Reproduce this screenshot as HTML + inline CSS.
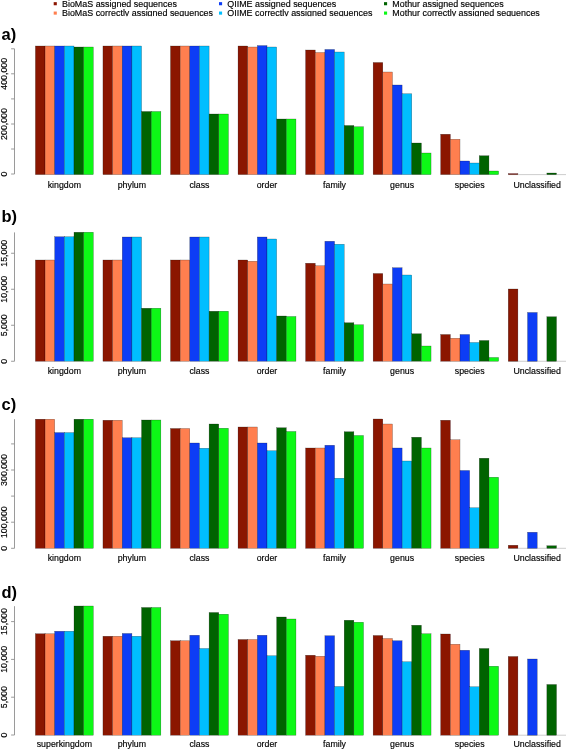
<!DOCTYPE html>
<html lang="en"><head><meta charset="utf-8"><title>Figure</title>
<style>html,body{margin:0;padding:0;background:#fff;}body{width:567px;height:750px;overflow:hidden;}svg{display:block;font-family:"Liberation Sans",Arial,sans-serif;}.t{font-size:8.8px;fill:#000;stroke:#000;stroke-width:0.16px;}.lg{font-size:8.92px;}.L{font-size:16.5px;font-weight:bold;fill:#000;}.bar{stroke:#000;stroke-width:0.4;stroke-opacity:0.55;}.ax{stroke:#8e8e8e;stroke-width:0.9;fill:none;}</style></head><body>
<svg width="567" height="750" viewBox="0 0 567 750">
<defs><filter id="soft" x="0" y="0" width="567" height="750" filterUnits="userSpaceOnUse"><feGaussianBlur stdDeviation="0.38"/></filter></defs>
<rect width="567" height="750" fill="#fff"/>
<g filter="url(#soft)">
<g id="legend">
<rect x="53.70" y="2.15" width="3.1" height="3.1" fill="#8B1500"/>
<text class="t lg" x="62.00" y="7.00">BioMaS assigned sequences</text>
<rect x="53.70" y="11.55" width="3.1" height="3.1" fill="#FF7F50"/>
<text class="t lg" x="62.00" y="15.90">BioMaS correctly assigned sequences</text>
<rect x="219.00" y="2.15" width="3.1" height="3.1" fill="#0F3CF5"/>
<text class="t lg" x="227.30" y="7.00">QIIME assigned sequences</text>
<rect x="219.00" y="11.55" width="3.1" height="3.1" fill="#06BEFF"/>
<text class="t lg" x="227.30" y="15.90">QIIME correctly assigned sequences</text>
<rect x="384.00" y="2.15" width="3.1" height="3.1" fill="#006400"/>
<text class="t lg" x="392.30" y="7.00">Mothur assigned sequences</text>
<rect x="384.00" y="11.55" width="3.1" height="3.1" fill="#0AF814"/>
<text class="t lg" x="392.30" y="15.90">Mothur correctly assigned sequences</text>
</g>
<rect x="0" y="16.2" width="567" height="8" fill="#fff"/>
<g id="panel-a">
<text class="L" x="1.5" y="40.00">a)</text>
<path class="ax" d="M14.50 48.80V174.00"/>
<path class="ax" d="M11.10 174.00H14.50M11.10 149.00H14.50M11.10 124.00H14.50M11.10 98.90H14.50M11.10 73.80H14.50M11.10 48.80H14.50"/>
<text class="t" text-anchor="middle" transform="translate(7.1 174.00) rotate(-90)">0</text>
<text class="t" text-anchor="middle" transform="translate(7.1 124.00) rotate(-90)">200,000</text>
<text class="t" text-anchor="middle" transform="translate(7.1 73.80) rotate(-90)">400,000</text>
<rect class="bar" x="35.40" y="46.00" width="9.65" height="128.60" fill="#8B1500"/>
<rect class="bar" x="45.05" y="46.00" width="9.65" height="128.60" fill="#FF7F50"/>
<rect class="bar" x="54.70" y="46.00" width="9.65" height="128.60" fill="#0F3CF5"/>
<rect class="bar" x="64.35" y="46.00" width="9.65" height="128.60" fill="#06BEFF"/>
<rect class="bar" x="74.00" y="47.00" width="9.65" height="127.60" fill="#006400"/>
<rect class="bar" x="83.65" y="47.00" width="9.65" height="127.60" fill="#0AF814"/>
<text class="t" text-anchor="middle" x="64.35" y="187.90">kingdom</text>
<rect class="bar" x="102.95" y="46.00" width="9.65" height="128.60" fill="#8B1500"/>
<rect class="bar" x="112.60" y="46.00" width="9.65" height="128.60" fill="#FF7F50"/>
<rect class="bar" x="122.25" y="46.00" width="9.65" height="128.60" fill="#0F3CF5"/>
<rect class="bar" x="131.90" y="46.00" width="9.65" height="128.60" fill="#06BEFF"/>
<rect class="bar" x="141.55" y="111.50" width="9.65" height="63.10" fill="#006400"/>
<rect class="bar" x="151.20" y="111.50" width="9.65" height="63.10" fill="#0AF814"/>
<text class="t" text-anchor="middle" x="131.90" y="187.90">phylum</text>
<rect class="bar" x="170.50" y="46.00" width="9.65" height="128.60" fill="#8B1500"/>
<rect class="bar" x="180.15" y="46.00" width="9.65" height="128.60" fill="#FF7F50"/>
<rect class="bar" x="189.80" y="46.00" width="9.65" height="128.60" fill="#0F3CF5"/>
<rect class="bar" x="199.45" y="46.00" width="9.65" height="128.60" fill="#06BEFF"/>
<rect class="bar" x="209.10" y="114.00" width="9.65" height="60.60" fill="#006400"/>
<rect class="bar" x="218.75" y="114.00" width="9.65" height="60.60" fill="#0AF814"/>
<text class="t" text-anchor="middle" x="199.45" y="187.90">class</text>
<rect class="bar" x="238.05" y="46.00" width="9.65" height="128.60" fill="#8B1500"/>
<rect class="bar" x="247.70" y="47.00" width="9.65" height="127.60" fill="#FF7F50"/>
<rect class="bar" x="257.35" y="45.60" width="9.65" height="129.00" fill="#0F3CF5"/>
<rect class="bar" x="267.00" y="47.00" width="9.65" height="127.60" fill="#06BEFF"/>
<rect class="bar" x="276.65" y="119.00" width="9.65" height="55.60" fill="#006400"/>
<rect class="bar" x="286.30" y="119.00" width="9.65" height="55.60" fill="#0AF814"/>
<text class="t" text-anchor="middle" x="267.00" y="187.90">order</text>
<rect class="bar" x="305.60" y="50.00" width="9.65" height="124.60" fill="#8B1500"/>
<rect class="bar" x="315.25" y="52.50" width="9.65" height="122.10" fill="#FF7F50"/>
<rect class="bar" x="324.90" y="49.50" width="9.65" height="125.10" fill="#0F3CF5"/>
<rect class="bar" x="334.55" y="52.00" width="9.65" height="122.60" fill="#06BEFF"/>
<rect class="bar" x="344.20" y="125.50" width="9.65" height="49.10" fill="#006400"/>
<rect class="bar" x="353.85" y="126.75" width="9.65" height="47.85" fill="#0AF814"/>
<text class="t" text-anchor="middle" x="334.55" y="187.90">family</text>
<rect class="bar" x="373.15" y="62.50" width="9.65" height="112.10" fill="#8B1500"/>
<rect class="bar" x="382.80" y="72.00" width="9.65" height="102.60" fill="#FF7F50"/>
<rect class="bar" x="392.45" y="85.00" width="9.65" height="89.60" fill="#0F3CF5"/>
<rect class="bar" x="402.10" y="93.75" width="9.65" height="80.85" fill="#06BEFF"/>
<rect class="bar" x="411.75" y="143.00" width="9.65" height="31.60" fill="#006400"/>
<rect class="bar" x="421.40" y="153.00" width="9.65" height="21.60" fill="#0AF814"/>
<text class="t" text-anchor="middle" x="402.10" y="187.90">genus</text>
<rect class="bar" x="440.70" y="134.25" width="9.65" height="40.35" fill="#8B1500"/>
<rect class="bar" x="450.35" y="139.25" width="9.65" height="35.35" fill="#FF7F50"/>
<rect class="bar" x="460.00" y="161.00" width="9.65" height="13.60" fill="#0F3CF5"/>
<rect class="bar" x="469.65" y="163.00" width="9.65" height="11.60" fill="#06BEFF"/>
<rect class="bar" x="479.30" y="155.75" width="9.65" height="18.85" fill="#006400"/>
<rect class="bar" x="488.95" y="171.00" width="9.65" height="3.60" fill="#0AF814"/>
<text class="t" text-anchor="middle" x="469.65" y="187.90">species</text>
<path d="M508.25 174.60H566.00" stroke="#b8b8b8" stroke-width="0.7"/>
<rect class="bar" x="508.25" y="173.60" width="9.65" height="1.00" fill="#8B1500"/>
<rect class="bar" x="546.85" y="173.00" width="9.65" height="1.60" fill="#006400"/>
<text class="t" text-anchor="middle" x="537.20" y="187.90">Unclassified</text>
</g>
<g id="panel-b">
<text class="L" x="1.5" y="222.00">b)</text>
<path class="ax" d="M14.50 232.40V361.25"/>
<path class="ax" d="M11.10 361.25H14.50M11.10 325.25H14.50M11.10 289.25H14.50M11.10 253.25H14.50"/>
<text class="t" text-anchor="middle" transform="translate(7.1 361.25) rotate(-90)">0</text>
<text class="t" text-anchor="middle" transform="translate(7.1 325.25) rotate(-90)">5,000</text>
<text class="t" text-anchor="middle" transform="translate(7.1 289.25) rotate(-90)">10,000</text>
<text class="t" text-anchor="middle" transform="translate(7.1 253.25) rotate(-90)">15,000</text>
<rect class="bar" x="35.40" y="260.00" width="9.65" height="101.25" fill="#8B1500"/>
<rect class="bar" x="45.05" y="260.00" width="9.65" height="101.25" fill="#FF7F50"/>
<rect class="bar" x="54.70" y="236.75" width="9.65" height="124.50" fill="#0F3CF5"/>
<rect class="bar" x="64.35" y="236.75" width="9.65" height="124.50" fill="#06BEFF"/>
<rect class="bar" x="74.00" y="232.25" width="9.65" height="129.00" fill="#006400"/>
<rect class="bar" x="83.65" y="232.25" width="9.65" height="129.00" fill="#0AF814"/>
<text class="t" text-anchor="middle" x="64.35" y="374.40">kingdom</text>
<rect class="bar" x="102.95" y="260.00" width="9.65" height="101.25" fill="#8B1500"/>
<rect class="bar" x="112.60" y="260.00" width="9.65" height="101.25" fill="#FF7F50"/>
<rect class="bar" x="122.25" y="237.00" width="9.65" height="124.25" fill="#0F3CF5"/>
<rect class="bar" x="131.90" y="237.00" width="9.65" height="124.25" fill="#06BEFF"/>
<rect class="bar" x="141.55" y="308.25" width="9.65" height="53.00" fill="#006400"/>
<rect class="bar" x="151.20" y="308.25" width="9.65" height="53.00" fill="#0AF814"/>
<text class="t" text-anchor="middle" x="131.90" y="374.40">phylum</text>
<rect class="bar" x="170.50" y="260.00" width="9.65" height="101.25" fill="#8B1500"/>
<rect class="bar" x="180.15" y="260.00" width="9.65" height="101.25" fill="#FF7F50"/>
<rect class="bar" x="189.80" y="237.00" width="9.65" height="124.25" fill="#0F3CF5"/>
<rect class="bar" x="199.45" y="237.00" width="9.65" height="124.25" fill="#06BEFF"/>
<rect class="bar" x="209.10" y="311.25" width="9.65" height="50.00" fill="#006400"/>
<rect class="bar" x="218.75" y="311.25" width="9.65" height="50.00" fill="#0AF814"/>
<text class="t" text-anchor="middle" x="199.45" y="374.40">class</text>
<rect class="bar" x="238.05" y="260.00" width="9.65" height="101.25" fill="#8B1500"/>
<rect class="bar" x="247.70" y="261.25" width="9.65" height="100.00" fill="#FF7F50"/>
<rect class="bar" x="257.35" y="237.00" width="9.65" height="124.25" fill="#0F3CF5"/>
<rect class="bar" x="267.00" y="239.00" width="9.65" height="122.25" fill="#06BEFF"/>
<rect class="bar" x="276.65" y="316.00" width="9.65" height="45.25" fill="#006400"/>
<rect class="bar" x="286.30" y="316.50" width="9.65" height="44.75" fill="#0AF814"/>
<text class="t" text-anchor="middle" x="267.00" y="374.40">order</text>
<rect class="bar" x="305.60" y="263.25" width="9.65" height="98.00" fill="#8B1500"/>
<rect class="bar" x="315.25" y="265.75" width="9.65" height="95.50" fill="#FF7F50"/>
<rect class="bar" x="324.90" y="241.25" width="9.65" height="120.00" fill="#0F3CF5"/>
<rect class="bar" x="334.55" y="244.25" width="9.65" height="117.00" fill="#06BEFF"/>
<rect class="bar" x="344.20" y="322.75" width="9.65" height="38.50" fill="#006400"/>
<rect class="bar" x="353.85" y="324.75" width="9.65" height="36.50" fill="#0AF814"/>
<text class="t" text-anchor="middle" x="334.55" y="374.40">family</text>
<rect class="bar" x="373.15" y="273.50" width="9.65" height="87.75" fill="#8B1500"/>
<rect class="bar" x="382.80" y="284.00" width="9.65" height="77.25" fill="#FF7F50"/>
<rect class="bar" x="392.45" y="267.75" width="9.65" height="93.50" fill="#0F3CF5"/>
<rect class="bar" x="402.10" y="275.00" width="9.65" height="86.25" fill="#06BEFF"/>
<rect class="bar" x="411.75" y="333.75" width="9.65" height="27.50" fill="#006400"/>
<rect class="bar" x="421.40" y="346.00" width="9.65" height="15.25" fill="#0AF814"/>
<text class="t" text-anchor="middle" x="402.10" y="374.40">genus</text>
<rect class="bar" x="440.70" y="334.50" width="9.65" height="26.75" fill="#8B1500"/>
<rect class="bar" x="450.35" y="338.25" width="9.65" height="23.00" fill="#FF7F50"/>
<rect class="bar" x="460.00" y="334.50" width="9.65" height="26.75" fill="#0F3CF5"/>
<rect class="bar" x="469.65" y="342.50" width="9.65" height="18.75" fill="#06BEFF"/>
<rect class="bar" x="479.30" y="340.50" width="9.65" height="20.75" fill="#006400"/>
<rect class="bar" x="488.95" y="357.50" width="9.65" height="3.75" fill="#0AF814"/>
<text class="t" text-anchor="middle" x="469.65" y="374.40">species</text>
<path d="M508.25 361.25H566.00" stroke="#b8b8b8" stroke-width="0.7"/>
<rect class="bar" x="508.25" y="289.00" width="9.65" height="72.25" fill="#8B1500"/>
<rect class="bar" x="527.55" y="312.50" width="9.65" height="48.75" fill="#0F3CF5"/>
<rect class="bar" x="546.85" y="316.75" width="9.65" height="44.50" fill="#006400"/>
<text class="t" text-anchor="middle" x="537.20" y="374.40">Unclassified</text>
</g>
<g id="panel-c">
<text class="L" x="1.5" y="409.60">c)</text>
<path class="ax" d="M14.50 419.20V548.30"/>
<path class="ax" d="M11.10 548.30H14.50M11.10 522.20H14.50M11.10 496.10H14.50M11.10 470.00H14.50M11.10 443.90H14.50"/>
<text class="t" text-anchor="middle" transform="translate(7.1 548.30) rotate(-90)">0</text>
<text class="t" text-anchor="middle" transform="translate(7.1 522.20) rotate(-90)">100,000</text>
<text class="t" text-anchor="middle" transform="translate(7.1 470.00) rotate(-90)">300,000</text>
<rect class="bar" x="35.40" y="419.20" width="9.65" height="129.10" fill="#8B1500"/>
<rect class="bar" x="45.05" y="419.20" width="9.65" height="129.10" fill="#FF7F50"/>
<rect class="bar" x="54.70" y="432.60" width="9.65" height="115.70" fill="#0F3CF5"/>
<rect class="bar" x="64.35" y="432.60" width="9.65" height="115.70" fill="#06BEFF"/>
<rect class="bar" x="74.00" y="419.20" width="9.65" height="129.10" fill="#006400"/>
<rect class="bar" x="83.65" y="419.20" width="9.65" height="129.10" fill="#0AF814"/>
<text class="t" text-anchor="middle" x="64.35" y="561.00">kingdom</text>
<rect class="bar" x="102.95" y="420.25" width="9.65" height="128.05" fill="#8B1500"/>
<rect class="bar" x="112.60" y="420.25" width="9.65" height="128.05" fill="#FF7F50"/>
<rect class="bar" x="122.25" y="437.75" width="9.65" height="110.55" fill="#0F3CF5"/>
<rect class="bar" x="131.90" y="437.75" width="9.65" height="110.55" fill="#06BEFF"/>
<rect class="bar" x="141.55" y="420.00" width="9.65" height="128.30" fill="#006400"/>
<rect class="bar" x="151.20" y="420.00" width="9.65" height="128.30" fill="#0AF814"/>
<text class="t" text-anchor="middle" x="131.90" y="561.00">phylum</text>
<rect class="bar" x="170.50" y="428.50" width="9.65" height="119.80" fill="#8B1500"/>
<rect class="bar" x="180.15" y="428.50" width="9.65" height="119.80" fill="#FF7F50"/>
<rect class="bar" x="189.80" y="443.00" width="9.65" height="105.30" fill="#0F3CF5"/>
<rect class="bar" x="199.45" y="448.25" width="9.65" height="100.05" fill="#06BEFF"/>
<rect class="bar" x="209.10" y="424.00" width="9.65" height="124.30" fill="#006400"/>
<rect class="bar" x="218.75" y="428.25" width="9.65" height="120.05" fill="#0AF814"/>
<text class="t" text-anchor="middle" x="199.45" y="561.00">class</text>
<rect class="bar" x="238.05" y="427.00" width="9.65" height="121.30" fill="#8B1500"/>
<rect class="bar" x="247.70" y="427.00" width="9.65" height="121.30" fill="#FF7F50"/>
<rect class="bar" x="257.35" y="443.00" width="9.65" height="105.30" fill="#0F3CF5"/>
<rect class="bar" x="267.00" y="450.75" width="9.65" height="97.55" fill="#06BEFF"/>
<rect class="bar" x="276.65" y="427.75" width="9.65" height="120.55" fill="#006400"/>
<rect class="bar" x="286.30" y="431.50" width="9.65" height="116.80" fill="#0AF814"/>
<text class="t" text-anchor="middle" x="267.00" y="561.00">order</text>
<rect class="bar" x="305.60" y="448.00" width="9.65" height="100.30" fill="#8B1500"/>
<rect class="bar" x="315.25" y="448.00" width="9.65" height="100.30" fill="#FF7F50"/>
<rect class="bar" x="324.90" y="445.25" width="9.65" height="103.05" fill="#0F3CF5"/>
<rect class="bar" x="334.55" y="478.25" width="9.65" height="70.05" fill="#06BEFF"/>
<rect class="bar" x="344.20" y="431.75" width="9.65" height="116.55" fill="#006400"/>
<rect class="bar" x="353.85" y="435.50" width="9.65" height="112.80" fill="#0AF814"/>
<text class="t" text-anchor="middle" x="334.55" y="561.00">family</text>
<rect class="bar" x="373.15" y="419.00" width="9.65" height="129.30" fill="#8B1500"/>
<rect class="bar" x="382.80" y="424.00" width="9.65" height="124.30" fill="#FF7F50"/>
<rect class="bar" x="392.45" y="448.00" width="9.65" height="100.30" fill="#0F3CF5"/>
<rect class="bar" x="402.10" y="461.00" width="9.65" height="87.30" fill="#06BEFF"/>
<rect class="bar" x="411.75" y="437.25" width="9.65" height="111.05" fill="#006400"/>
<rect class="bar" x="421.40" y="448.00" width="9.65" height="100.30" fill="#0AF814"/>
<text class="t" text-anchor="middle" x="402.10" y="561.00">genus</text>
<rect class="bar" x="440.70" y="420.25" width="9.65" height="128.05" fill="#8B1500"/>
<rect class="bar" x="450.35" y="439.75" width="9.65" height="108.55" fill="#FF7F50"/>
<rect class="bar" x="460.00" y="470.50" width="9.65" height="77.80" fill="#0F3CF5"/>
<rect class="bar" x="469.65" y="507.75" width="9.65" height="40.55" fill="#06BEFF"/>
<rect class="bar" x="479.30" y="458.25" width="9.65" height="90.05" fill="#006400"/>
<rect class="bar" x="488.95" y="477.25" width="9.65" height="71.05" fill="#0AF814"/>
<text class="t" text-anchor="middle" x="469.65" y="561.00">species</text>
<path d="M508.25 548.30H566.00" stroke="#b8b8b8" stroke-width="0.7"/>
<rect class="bar" x="508.25" y="545.25" width="9.65" height="3.05" fill="#8B1500"/>
<rect class="bar" x="527.55" y="532.25" width="9.65" height="16.05" fill="#0F3CF5"/>
<rect class="bar" x="546.85" y="545.75" width="9.65" height="2.55" fill="#006400"/>
<text class="t" text-anchor="middle" x="537.20" y="561.00">Unclassified</text>
</g>
<g id="panel-d">
<text class="L" x="1.5" y="598.00">d)</text>
<path class="ax" d="M14.50 606.20V735.00"/>
<path class="ax" d="M11.10 735.00H14.50M11.10 697.20H14.50M11.10 659.40H14.50M11.10 621.60H14.50"/>
<text class="t" text-anchor="middle" transform="translate(7.1 735.00) rotate(-90)">0</text>
<text class="t" text-anchor="middle" transform="translate(7.1 697.20) rotate(-90)">5,000</text>
<text class="t" text-anchor="middle" transform="translate(7.1 659.40) rotate(-90)">10,000</text>
<text class="t" text-anchor="middle" transform="translate(7.1 621.60) rotate(-90)">15,000</text>
<rect class="bar" x="35.40" y="633.75" width="9.65" height="101.45" fill="#8B1500"/>
<rect class="bar" x="45.05" y="633.75" width="9.65" height="101.45" fill="#FF7F50"/>
<rect class="bar" x="54.70" y="631.25" width="9.65" height="103.95" fill="#0F3CF5"/>
<rect class="bar" x="64.35" y="631.25" width="9.65" height="103.95" fill="#06BEFF"/>
<rect class="bar" x="74.00" y="606.00" width="9.65" height="129.20" fill="#006400"/>
<rect class="bar" x="83.65" y="606.00" width="9.65" height="129.20" fill="#0AF814"/>
<text class="t" text-anchor="middle" x="64.35" y="747.20">superkingdom</text>
<rect class="bar" x="102.95" y="636.25" width="9.65" height="98.95" fill="#8B1500"/>
<rect class="bar" x="112.60" y="636.25" width="9.65" height="98.95" fill="#FF7F50"/>
<rect class="bar" x="122.25" y="633.50" width="9.65" height="101.70" fill="#0F3CF5"/>
<rect class="bar" x="131.90" y="636.25" width="9.65" height="98.95" fill="#06BEFF"/>
<rect class="bar" x="141.55" y="607.50" width="9.65" height="127.70" fill="#006400"/>
<rect class="bar" x="151.20" y="607.50" width="9.65" height="127.70" fill="#0AF814"/>
<text class="t" text-anchor="middle" x="131.90" y="747.20">phylum</text>
<rect class="bar" x="170.50" y="640.75" width="9.65" height="94.45" fill="#8B1500"/>
<rect class="bar" x="180.15" y="640.75" width="9.65" height="94.45" fill="#FF7F50"/>
<rect class="bar" x="189.80" y="635.25" width="9.65" height="99.95" fill="#0F3CF5"/>
<rect class="bar" x="199.45" y="648.50" width="9.65" height="86.70" fill="#06BEFF"/>
<rect class="bar" x="209.10" y="612.50" width="9.65" height="122.70" fill="#006400"/>
<rect class="bar" x="218.75" y="614.25" width="9.65" height="120.95" fill="#0AF814"/>
<text class="t" text-anchor="middle" x="199.45" y="747.20">class</text>
<rect class="bar" x="238.05" y="639.50" width="9.65" height="95.70" fill="#8B1500"/>
<rect class="bar" x="247.70" y="639.50" width="9.65" height="95.70" fill="#FF7F50"/>
<rect class="bar" x="257.35" y="635.25" width="9.65" height="99.95" fill="#0F3CF5"/>
<rect class="bar" x="267.00" y="655.75" width="9.65" height="79.45" fill="#06BEFF"/>
<rect class="bar" x="276.65" y="617.00" width="9.65" height="118.20" fill="#006400"/>
<rect class="bar" x="286.30" y="619.00" width="9.65" height="116.20" fill="#0AF814"/>
<text class="t" text-anchor="middle" x="267.00" y="747.20">order</text>
<rect class="bar" x="305.60" y="655.25" width="9.65" height="79.95" fill="#8B1500"/>
<rect class="bar" x="315.25" y="656.25" width="9.65" height="78.95" fill="#FF7F50"/>
<rect class="bar" x="324.90" y="635.75" width="9.65" height="99.45" fill="#0F3CF5"/>
<rect class="bar" x="334.55" y="686.50" width="9.65" height="48.70" fill="#06BEFF"/>
<rect class="bar" x="344.20" y="620.25" width="9.65" height="114.95" fill="#006400"/>
<rect class="bar" x="353.85" y="622.25" width="9.65" height="112.95" fill="#0AF814"/>
<text class="t" text-anchor="middle" x="334.55" y="747.20">family</text>
<rect class="bar" x="373.15" y="635.50" width="9.65" height="99.70" fill="#8B1500"/>
<rect class="bar" x="382.80" y="638.50" width="9.65" height="96.70" fill="#FF7F50"/>
<rect class="bar" x="392.45" y="640.75" width="9.65" height="94.45" fill="#0F3CF5"/>
<rect class="bar" x="402.10" y="661.75" width="9.65" height="73.45" fill="#06BEFF"/>
<rect class="bar" x="411.75" y="625.25" width="9.65" height="109.95" fill="#006400"/>
<rect class="bar" x="421.40" y="633.75" width="9.65" height="101.45" fill="#0AF814"/>
<text class="t" text-anchor="middle" x="402.10" y="747.20">genus</text>
<rect class="bar" x="440.70" y="634.00" width="9.65" height="101.20" fill="#8B1500"/>
<rect class="bar" x="450.35" y="644.25" width="9.65" height="90.95" fill="#FF7F50"/>
<rect class="bar" x="460.00" y="650.25" width="9.65" height="84.95" fill="#0F3CF5"/>
<rect class="bar" x="469.65" y="686.75" width="9.65" height="48.45" fill="#06BEFF"/>
<rect class="bar" x="479.30" y="648.50" width="9.65" height="86.70" fill="#006400"/>
<rect class="bar" x="488.95" y="666.25" width="9.65" height="68.95" fill="#0AF814"/>
<text class="t" text-anchor="middle" x="469.65" y="747.20">species</text>
<path d="M508.25 735.20H566.00" stroke="#b8b8b8" stroke-width="0.7"/>
<rect class="bar" x="508.25" y="656.50" width="9.65" height="78.70" fill="#8B1500"/>
<rect class="bar" x="527.55" y="659.00" width="9.65" height="76.20" fill="#0F3CF5"/>
<rect class="bar" x="546.85" y="684.50" width="9.65" height="50.70" fill="#006400"/>
<text class="t" text-anchor="middle" x="537.20" y="747.20">Unclassified</text>
</g>
</g>
</svg></body></html>
